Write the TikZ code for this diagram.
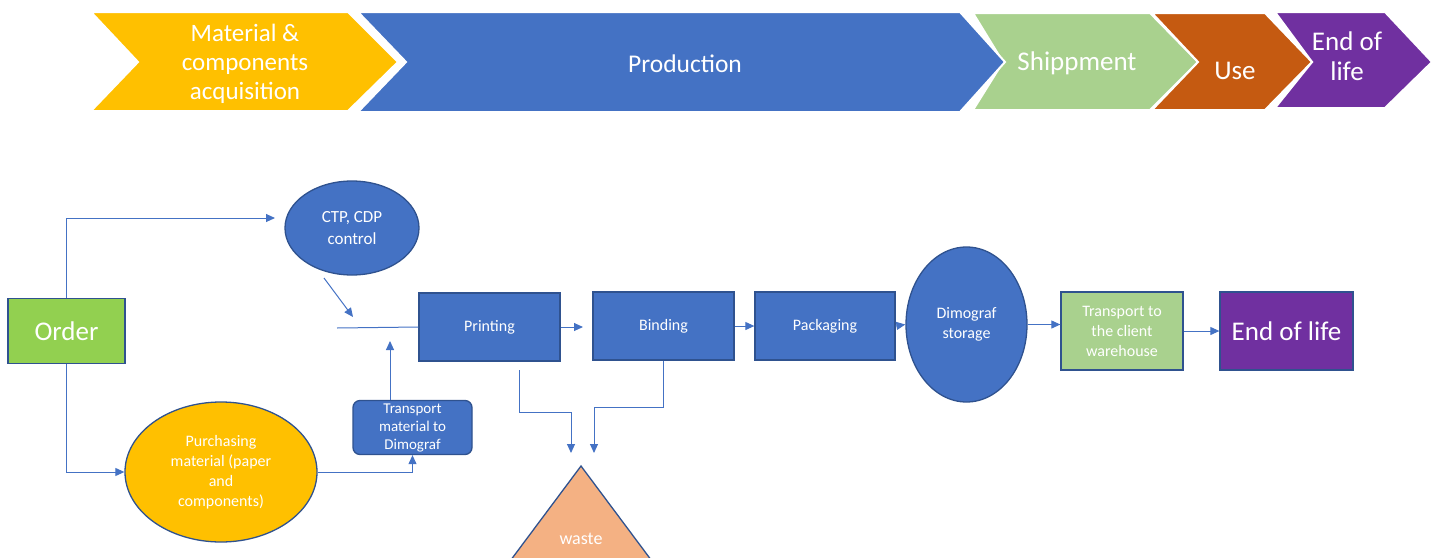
\documentclass[tikz,border=0pt]{standalone}
\usepackage{fontspec}
\setmainfont{Carlito}
\usetikzlibrary{shapes.geometric,arrows.meta,calc}
\definecolor{cblue}{HTML}{4472C4}
\definecolor{bordc}{HTML}{2F528F}
\definecolor{cyellow}{HTML}{FFC000}
\definecolor{cgreen}{HTML}{A9D18E}
\definecolor{corder}{HTML}{92D050}
\definecolor{corange}{HTML}{C55A11}
\definecolor{cpurple}{HTML}{7030A0}
\definecolor{cwaste}{HTML}{F4B183}
\begin{document}
\begin{tikzpicture}[x=1pt,y=-1pt,
  conn/.style={draw=cblue, line width=1pt},
  arr/.style={conn, -{Triangle[length=9pt,width=8pt]}},
  chev/.style={draw=white, line width=2pt},
  chevtext/.style={text=white, align=center, inner sep=0pt, font=\fontsize{25}{29}\selectfont},
  box/.style={draw=bordc, line width=1.3pt, text=white, inner sep=0pt, align=center, font=\fontsize{16}{20}\selectfont},
  oval/.style={box, shape=ellipse}]
\useasboundingbox (0,0) rectangle (1437,557);
% ---- top chevrons ----
\filldraw[chev, fill=cyellow] (91,12) -- (348,12) -- (398,62) -- (348,111) -- (91,111) -- (138,62) -- cycle;
\filldraw[chev, fill=cgreen] (973,13) -- (1150,13) -- (1198,62) -- (1150,110) -- (973,110) -- (1003,62) -- cycle;
\filldraw[chev, fill=cblue] (358,12) -- (960,12) -- (1005,62) -- (960,112) -- (358,112) -- (406,62) -- cycle;
\filldraw[chev, fill=cpurple] (1275,12) -- (1385,12) -- (1432,62) -- (1385,108) -- (1275,108) -- (1312,62) -- cycle;
\filldraw[chev, fill=corange] (1152,13) -- (1265,13) -- (1312,62) -- (1265,110) -- (1152,110) -- (1198,62) -- cycle;
\node[chevtext] (t1) at (245,64) {Material \&\\components\\acquisition};
\node[chevtext, font=\fontsize{25.5}{29}\selectfont] (t2) at (685,64) {Production};
\node[chevtext, font=\fontsize{27}{30}\selectfont] (t3) at (1077,63) {Shippment};
\node[chevtext, font=\fontsize{27}{30}\selectfont] (t4) at (1235,71) {Use};
\node[chevtext, font=\fontsize{27}{30}\selectfont] (t5) at (1347,56) {End of\\life};
% ---- waste triangle ----
\begin{scope}
\clip (0,0) rectangle (1437,557);
\filldraw[fill=cwaste, draw=bordc, line width=1.3pt] (581,466) -- (681,600) -- (481,600) -- cycle;
\end{scope}
\node[text=white, font=\fontsize{18}{22}\selectfont, inner sep=0pt] (waste) at (581,539) {waste};
% ---- nodes ----
\node[box, fill=corder, minimum width=117pt, minimum height=65pt, font=\fontsize{27}{32}\selectfont] (order) at (66.5,331) {Order};
\node[oval, fill=cblue, minimum width=134pt, minimum height=94pt, font=\fontsize{17}{22}\selectfont] (ctp) at (352,228) {CTP, CDP\\control};
\node[oval, fill=cyellow, minimum width=192pt, minimum height=140pt] (purch) at (221,472) {\raisebox{-2pt}{\begin{tabular}{@{}c@{}}Purchasing\\material (paper\\and\\components)\end{tabular}}};
\node[box, fill=cblue, rounded corners=7pt, minimum width=119pt, minimum height=51pt, font=\fontsize{15}{18}\selectfont] (trans) at (412.5,427.5) {\raisebox{5pt}{\begin{tabular}{@{}c@{}}Transport\\material to\\Dimograf\end{tabular}}};
\node[box, fill=cblue, minimum width=141pt, minimum height=68pt] (print) at (489.5,327) {\raisebox{-1pt}{Printing}};
\node[box, fill=cblue, minimum width=141pt, minimum height=68pt] (bind) at (663.5,326) {\raisebox{-1pt}{Binding}};
\node[box, fill=cblue, minimum width=140pt, minimum height=68pt] (pack) at (825,326) {\raisebox{-1pt}{Packaging}};
\node[oval, fill=cblue, minimum width=121pt, minimum height=155pt] (dim) at (966.5,324.5) {\raisebox{-2pt}{\begin{tabular}{@{}c@{}}Dimograf\\storage\end{tabular}}};
\node[box, fill=cgreen, minimum width=122pt, minimum height=78pt] (tc) at (1122,331) {Transport to\\the client\\warehouse};
\node[box, fill=cpurple, minimum width=133pt, minimum height=78pt, font=\fontsize{27}{32}\selectfont] (eol) at (1286.5,331) {End of life};
% ---- coordinates ----
\coordinate (ctpin) at (275,218);
\coordinate (j0) at (337,328);
\coordinate (j1) at (390,341);
\coordinate (c1) at (324,278);
\coordinate (c2) at (353,317);
\coordinate (pb) at (583,327);
\coordinate (w1a) at (519,370);
\coordinate (w1b) at (571,412);
\coordinate (w1c) at (571,453);
\coordinate (w2b) at (594,407);
\coordinate (w2c) at (594,453);
% ---- connectors ----
\draw[arr] (order.north) |- (ctpin);
\draw[arr] (order.south) |- (purch.west);
\draw[arr] (purch.east) -| (trans.south);
\draw[arr] (j1 |- trans.north) -- (j1);
\draw[conn] (j0) -- (print.west);
\draw[arr] (c1) -- (c2);
\draw[arr] (print.east) -- (pb);
\draw[arr] (bind.east) -- (pack.west);
\draw[arr] (pack.east) -- (dim.west);
\draw[arr] (dim.east) -- (dim.east -| tc.west);
\draw[arr] (tc.east) -- (eol.west);
\draw[arr] (w1a) |- (w1b) -- (w1c);
\draw[arr] (bind.south) |- (w2b) -- (w2c);
\end{tikzpicture}
\end{document}
